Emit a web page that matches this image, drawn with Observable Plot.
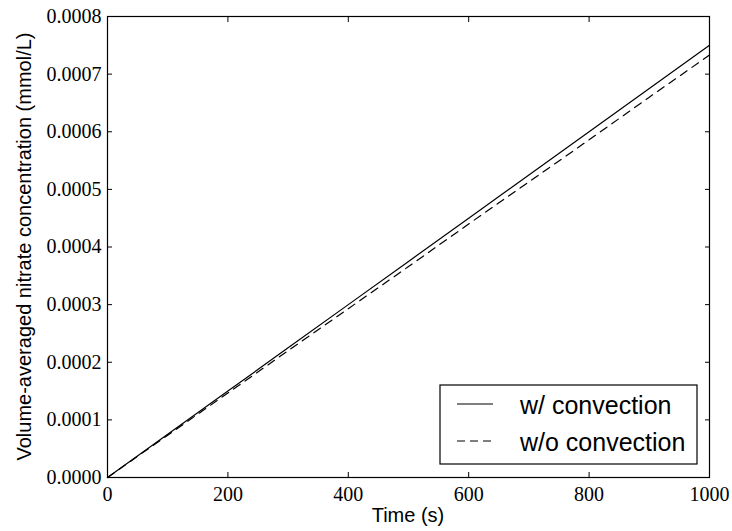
<!DOCTYPE html>
<html>
<head>
<meta charset="utf-8">
<script src="https://cdn.jsdelivr.net/npm/d3@7"></script>
<script src="https://cdn.jsdelivr.net/npm/@observablehq/plot@0.6"></script>
<style>
  html, body { margin: 0; padding: 0; background: #fff; }
  #chart { width: 732px; height: 531px; }
</style>
</head>
<body>
<div id="chart"></div>
<script>
const time = [0, 100, 200, 300, 400, 500, 600, 700, 800, 900, 1000];
const withConvection = [0, 0.000075, 0.00015, 0.000225, 0.0003, 0.000375, 0.00045, 0.000525, 0.0006, 0.000675, 0.00075];
const withoutConvection = [0, 0.0000733, 0.0001466, 0.00022, 0.000293, 0.000366, 0.00044, 0.000513, 0.000586, 0.00066, 0.000733];
const seriesNames = ["w/ convection", "w/o convection"];
const xTicks = [0, 200, 400, 600, 800, 1000];
const yTicks = [0, 0.0001, 0.0002, 0.0003, 0.0004, 0.0005, 0.0006, 0.0007, 0.0008];

const rows = [];
time.forEach((t, i) => {
  rows.push({t, v: withConvection[i], s: seriesNames[0]});
  rows.push({t, v: withoutConvection[i], s: seriesNames[1]});
});

const W = 732, H = 531;
const mL = 107, mR = 23, mT = 16, mB = 54;
const serif = "'Liberation Serif', 'DejaVu Serif', serif";
const sans = "'Liberation Sans', Arial, sans-serif";

const chart = Plot.plot({
  width: W, height: H,
  marginLeft: mL, marginRight: mR, marginTop: mT, marginBottom: mB,
  style: {fontFamily: sans, background: "#fff", color: "#000", overflow: "visible"},
  x: {domain: [0, 1000], label: null},
  y: {domain: [0, 0.0008], label: null},
  marks: [
    // tick labels
    Plot.axisX({ticks: xTicks, tickSize: 0, tickPadding: 9, tickFormat: d => String(d),
      fontSize: 20, fontFamily: serif, anchor: "bottom", ariaLabel: "xlab"}),
    Plot.axisY({ticks: yTicks, tickSize: 0, tickPadding: 6, tickFormat: d => d3.format(".4f")(d),
      fontSize: 20, fontFamily: serif, anchor: "left", ariaLabel: "ylab"}),
    // inward tick marks on all sides
    Plot.axisX({ticks: xTicks, tickSize: -5, text: null, anchor: "bottom"}),
    Plot.axisX({ticks: xTicks, tickSize: -5, text: null, anchor: "top"}),
    Plot.axisY({ticks: yTicks, tickSize: -5, text: null, anchor: "left"}),
    Plot.axisY({ticks: yTicks, tickSize: -5, text: null, anchor: "right"}),
    Plot.line(rows.filter(d => d.s === seriesNames[0]), {x: "t", y: "v", stroke: "#000", strokeWidth: 1.2}),
    Plot.line(rows.filter(d => d.s === seriesNames[1]), {x: "t", y: "v", stroke: "#000", strokeWidth: 1.2, strokeDasharray: "8,6"}),
    Plot.frame({stroke: "#000", strokeWidth: 1.2})
  ]
});

const svg = d3.select(chart);
svg.selectAll('g[aria-label="xlab"], g[aria-label="ylab"]')
  .attr("font-family", serif).attr("font-size", 20)
  .selectAll("text").attr("font-family", serif).attr("font-size", 20);

// axis titles
svg.append("text")
  .attr("x", mL + (W - mL - mR) / 2).attr("y", 522)
  .attr("text-anchor", "middle")
  .attr("font-family", sans).attr("font-size", 20)
  .attr("fill", "#000")
  .text("Time (s)");
svg.append("text")
  .attr("transform", `translate(31,${mT + (H - mT - mB) / 2}) rotate(-90)`)
  .attr("text-anchor", "middle")
  .attr("font-family", sans).attr("font-size", 20)
  .attr("fill", "#000")
  .text("Volume-averaged nitrate concentration (mmol/L)");

// legend
const lg = svg.append("g").attr("transform", "translate(440,385)");
lg.append("rect").attr("width", 257).attr("height", 79)
  .attr("fill", "#fff").attr("stroke", "#000").attr("stroke-width", 1.2);
seriesNames.forEach((name, i) => {
  const y = 19 + i * 37;
  lg.append("line").attr("x1", 17).attr("x2", 53).attr("y1", y).attr("y2", y)
    .attr("stroke", "#000").attr("stroke-width", 1.2)
    .attr("stroke-dasharray", i === 1 ? "8,5" : null);
  lg.append("text").attr("x", 80).attr("y", y + 10)
    .attr("text-anchor", "start")
    .attr("font-family", sans).attr("font-size", 25).attr("fill", "#000")
    .text(name);
});

document.getElementById("chart").appendChild(chart);
</script>
</body>
</html>
